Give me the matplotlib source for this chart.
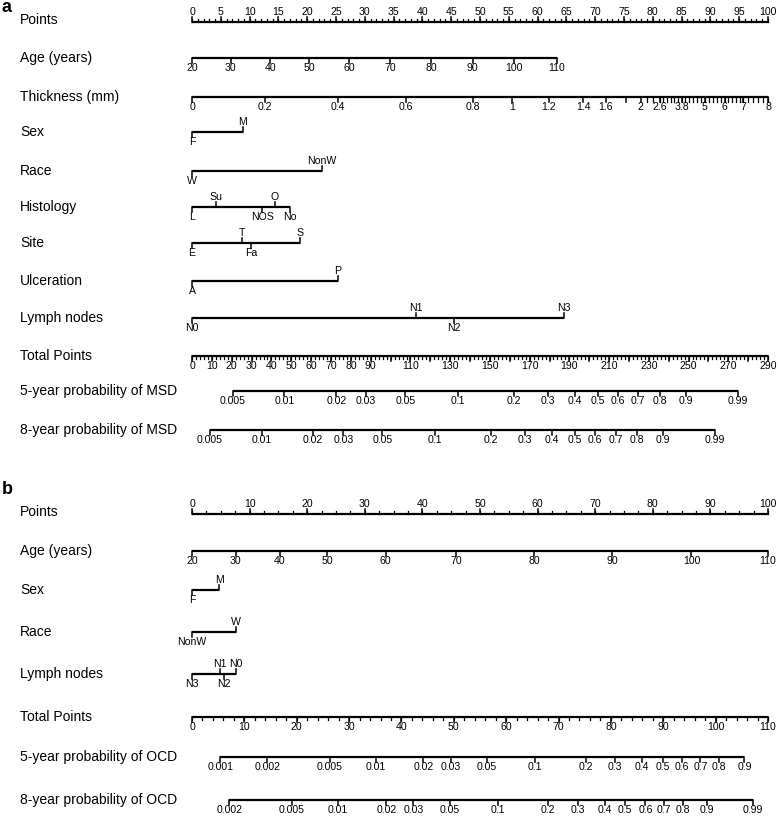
import numpy as np
import matplotlib.pyplot as plt

plt.rcParams['font.family'] = ['Liberation Sans', 'DejaVu Sans']

# ---------------- Panel a: MSD nomogram (positions in points, 0-100) ----------------
a_age_vals = ['20', '30', '40', '50', '60', '70', '80', '90', '100', '110']
a_age_pts = [0, 6.7, 13.6, 20.3, 27.3, 34.4, 41.5, 48.7, 55.9, 63.3]

a_thick_vals = ['0', '0.2', '0.4', '0.6', '0.8', '1', '1.2', '1.4', '1.6', '', '2',
                '2.6', '3.8', '5', '6', '7', '8']
a_thick_num = [0, 0.2, 0.4, 0.6, 0.8, 1.0, 1.2, 1.4, 1.6, 1.8, 2.0, 2.6, 3.8, 5, 6, 7, 8]
a_thick_pts = [0, 12.7, 25.4, 37.1, 48.8, 55.6, 61.9, 67.9, 71.8, 75.4, 77.9,
               81.2, 85.0, 89.0, 92.5, 95.7, 100]

a_sex = ['F', 'M']
a_sex_pts = [0, 8.8]
a_race = ['W', 'NonW']
a_race_pts = [0, 22.5]
a_hist = ['L', 'Su', 'NOS', 'O', 'No']
a_hist_pts = [0, 4.2, 12.2, 14.4, 17.0]
a_site = ['E', 'T', 'Fa', 'S']
a_site_pts = [0, 8.6, 10.3, 18.7]
a_ulc = ['A', 'P']
a_ulc_pts = [0, 25.3]
a_lymph = ['N0', 'N1', 'N2', 'N3']
a_lymph_pts = [0, 38.9, 45.5, 64.5]

a_total_max = 290
a_prob_labels = ['0.005', '0.01', '0.02', '0.03', '0.05', '0.1', '0.2', '0.3', '0.4',
                 '0.5', '0.6', '0.7', '0.8', '0.9', '0.99']
a_prob5_tp = [20.6, 46.5, 72.7, 87.7, 107.4, 134.0, 162.0, 179.3, 192.6,
              204.2, 214.4, 224.6, 235.4, 248.5, 274.8]
a_prob8_tp = [9.1, 35.1, 60.9, 76.2, 95.8, 122.4, 150.6, 167.8, 181.3,
              192.6, 203.0, 213.3, 224.1, 237.2, 263.2]

# ---------------- Panel b: OCD nomogram ----------------
b_age_vals = ['20', '30', '40', '50', '60', '70', '80', '90', '100', '110']
b_age_pts = [0, 7.6, 15.2, 23.5, 33.6, 45.9, 59.4, 72.9, 86.7, 100]
b_sex = ['F', 'M']
b_sex_pts = [0, 4.7]
b_race = ['NonW', 'W']
b_race_pts = [0, 7.6]
b_lymph = ['N3', 'N1', 'N2', 'N0']
b_lymph_pts = [0, 4.9, 5.5, 7.6]

b_total_max = 110
b_prob5_labels = ['0.001', '0.002', '0.005', '0.01', '0.02', '0.03', '0.05', '0.1', '0.2',
                  '0.3', '0.4', '0.5', '0.6', '0.7', '0.8', '0.9']
b_prob5_tp = [5.4, 14.4, 26.3, 35.1, 44.2, 49.5, 56.3, 65.5, 75.2,
              80.7, 85.9, 89.9, 93.6, 97.1, 100.7, 105.5]
b_prob8_labels = ['0.002', '0.005', '0.01', '0.02', '0.03', '0.05', '0.1', '0.2',
                  '0.3', '0.4', '0.5', '0.6', '0.7', '0.8', '0.9', '0.99']
b_prob8_tp = [7.1, 19.1, 27.9, 37.1, 42.3, 49.3, 58.4, 68.0,
              73.7, 78.8, 82.7, 86.6, 90.1, 93.8, 98.4, 107.1]

# ---------------- figure setup ----------------
W, H = 778, 821
x0_px, px_per_pt = 192, 5.76
fig = plt.figure(figsize=(W / 100, H / 100), dpi=100)
ax = fig.add_axes([0, 0, 1, 1])
ax.set_xlim(-x0_px / px_per_pt, (W - x0_px) / px_per_pt)
ax.set_ylim(H, 0)
ax.axis('off')

LW = 1.6
TICK_FS = 7.6
NAME_FS = 10
NAME_X = (20 - x0_px) / px_per_pt


def name(y, txt):
    ax.text(NAME_X, y, txt, fontsize=NAME_FS, va='center', ha='left')


def scale(y, pos, labels, minor=None, up=False, major_len=5, minor_len=3):
    s = -1 if up else 1
    ax.plot([min(pos), max(pos)], [y, y], color='black', lw=LW, solid_capstyle='butt')
    for p, lab in zip(pos, labels):
        ax.plot([p, p], [y, y + s * major_len], color='black', lw=1.1)
        if lab:
            ax.text(p, y + s * 10, lab, fontsize=TICK_FS, ha='center', va='center')
    if minor is not None:
        for p in minor:
            ax.plot([p, p], [y, y + s * minor_len], color='black', lw=0.9)


def cat(y, pos, labels, above):
    ax.plot([min(pos), max(pos)], [y, y], color='black', lw=LW, solid_capstyle='butt')
    for p, lab, up in zip(pos, labels, above):
        s = -1 if up else 1
        ax.plot([p, p], [y, y + s * 5], color='black', lw=1.1)
        ax.text(p, y + s * 10, lab, fontsize=TICK_FS, ha='center', va='center')


def total_to_pts(tp, tmax):
    return [t * 100.0 / tmax for t in tp]


# ---------------- panel a ----------------
ax.text(-x0_px / px_per_pt + 0.3, 7, 'a', fontsize=13, fontweight='bold', va='center')

y = 22
name(y - 2, 'Points')
pts_major = np.arange(0, 101, 5)
scale(y, pts_major, [str(v) for v in pts_major], minor=np.arange(0, 101, 1), up=True)

y = 58
name(y, 'Age (years)')
scale(y, a_age_pts, a_age_vals)

y = 97
name(y, 'Thickness (mm)')
dense = np.interp(np.arange(2.2, 8.01, 0.2), a_thick_num, a_thick_pts)
scale(y, a_thick_pts, a_thick_vals, minor=dense, minor_len=5)

y = 132
name(y, 'Sex')
cat(y, a_sex_pts, a_sex, [False, True])

y = 171
name(y, 'Race')
cat(y, a_race_pts, a_race, [False, True])

y = 207
name(y, 'Histology')
cat(y, a_hist_pts, a_hist, [False, True, False, True, False])

y = 243
name(y, 'Site')
cat(y, a_site_pts, a_site, [False, True, False, True])

y = 281
name(y, 'Ulceration')
cat(y, a_ulc_pts, a_ulc, [False, True])

y = 318
name(y, 'Lymph nodes')
cat(y, a_lymph_pts, a_lymph, [False, True, False, True])

y = 356
name(y, 'Total Points')
tp_major = list(range(0, 100, 10)) + list(range(110, 291, 20))
scale(y, total_to_pts(np.arange(0, 291, 10), a_total_max),
      [str(v) if v in tp_major else '' for v in range(0, 291, 10)],
      minor=total_to_pts(np.arange(0, 291, 2), a_total_max))

y = 391
name(y, '5-year probability of MSD')
scale(y, total_to_pts(a_prob5_tp, a_total_max), a_prob_labels)

y = 430
name(y, '8-year probability of MSD')
scale(y, total_to_pts(a_prob8_tp, a_total_max), a_prob_labels)

# ---------------- panel b ----------------
ax.text(-x0_px / px_per_pt + 0.3, 490, 'b', fontsize=13, fontweight='bold', va='center')

y = 514
name(y - 2, 'Points')
pb = np.arange(0, 101, 10)
scale(y, pb, [str(v) for v in pb], minor=np.arange(0, 101, 2.5), up=True)

y = 551
name(y, 'Age (years)')
scale(y, b_age_pts, b_age_vals)

y = 590
name(y, 'Sex')
cat(y, b_sex_pts, b_sex, [False, True])

y = 632
name(y, 'Race')
cat(y, b_race_pts, b_race, [False, True])

y = 674
name(y, 'Lymph nodes')
cat(y, b_lymph_pts, b_lymph, [False, True, False, True])

y = 717
name(y, 'Total Points')
tb = np.arange(0, 111, 10)
scale(y, total_to_pts(tb, b_total_max), [str(v) for v in tb],
      minor=total_to_pts(np.arange(0, 111, 2), b_total_max))

y = 757
name(y, '5-year probability of OCD')
scale(y, total_to_pts(b_prob5_tp, b_total_max), b_prob5_labels)

y = 800
name(y, '8-year probability of OCD')
scale(y, total_to_pts(b_prob8_tp, b_total_max), b_prob8_labels)

fig.savefig('out.png', dpi=100)
